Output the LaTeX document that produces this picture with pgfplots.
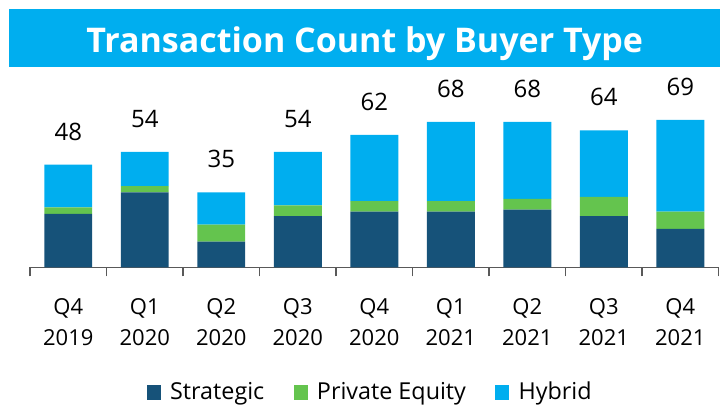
\documentclass[border=0pt]{standalone}
\usepackage{fontspec}
\setmainfont{Open Sans}
\usepackage{pgfplots}
\pgfplotsset{compat=1.18}
\usepackage{pgfplotstable}

\definecolor{strat}{HTML}{165279}
\definecolor{pe}{HTML}{64C44E}
\definecolor{hyb}{HTML}{00AEEF}
\definecolor{axisgray}{HTML}{595959}

% quarter, strategic, private equity, hybrid, total
\pgfplotstableread{
x strat pe hyb total
0 25 3 20 48
1 35 3 16 54
2 12 8 15 35
3 24 5 25 54
4 26 5 31 62
5 26 5 37 68
6 27 5 36 68
7 24 9 31 64
8 18 8 43 69
}\deals

\pgfplotsset{frame/.style={
    at={(22.5pt,102.5pt)}, anchor=south west,
    scale only axis,
    width=516.4pt, height=120.3pt,
    xmin=-0.5, xmax=8.5,
    ymin=0, ymax=75}}

\begin{document}
\begin{tikzpicture}
\useasboundingbox (0,0) rectangle (540pt,303pt);

% title banner
\fill[hyb] (7.1pt,253pt) rectangle (540pt,296.3pt);
\node[text=white, anchor=base, inner sep=0pt, font=\fontsize{25.5}{30}\selectfont\bfseries] at (273.5pt,263.8pt) {Transaction Count by Buyer Type};

\begin{axis}[
    frame,
    ybar stacked,
    bar width=0.627,
    axis x line*=bottom,
    axis y line=none,
    x axis line style={axisgray, line width=1pt, -},
    xtick={0,...,8},
    xticklabels={{Q4\\2019},{Q1\\2020},{Q2\\2020},{Q3\\2020},{Q4\\2020},{Q1\\2021},{Q2\\2021},{Q3\\2021},{Q4\\2021}},
    xticklabel style={align=center, font=\fontsize{16.5}{23.25}\selectfont, yshift=-20pt},
    major tick length=0pt,
    minor xtick={-0.5,0.5,...,8.5},
    minor tick length=6.75pt,
    tick align=outside,
    minor tick style={axisgray, line width=1pt},
    legend style={at={(0.4946,-0.774)}, anchor=center, draw=none, fill=none,
        legend columns=3, font=\fontsize{17.5}{20}\selectfont,
        /tikz/every odd column/.append style={column sep=5pt},
        /tikz/every even column/.append style={column sep=20pt}},
    legend image code/.code={\fill[#1] (0pt,-6.5pt) rectangle (10.5pt,4.5pt);},
]
\addplot[fill=strat, draw=none] table[x=x, y=strat] {\deals};
\addlegendentry{Strategic}
\addplot[fill=pe, draw=none] table[x=x, y=pe] {\deals};
\addlegendentry{Private Equity}
\addplot[fill=hyb, draw=none] table[x=x, y=hyb] {\deals};
\addlegendentry{Hybrid}
\end{axis}

% totals above the bars
\begin{axis}[
    frame,
    hide axis,
    clip=false,
    /pgf/number format/assume math mode=true,
]
\addplot[draw=none, nodes near coords,
    every node near coord/.append style={font=\fontsize{18}{20}\selectfont, text=black, anchor=base, yshift=18.5pt}]
    table[x=x, y=total] {\deals};
\end{axis}
\end{tikzpicture}
\end{document}
